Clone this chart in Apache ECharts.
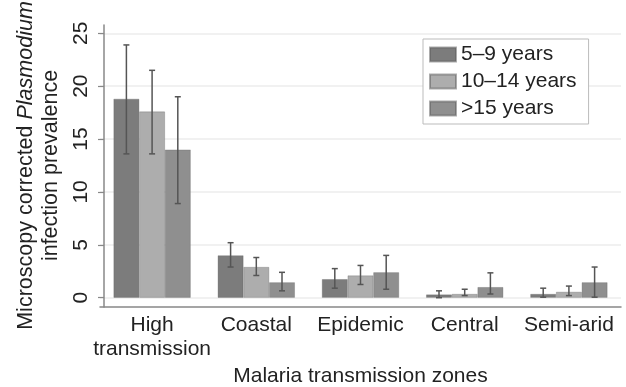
<!DOCTYPE html>
<html><head><meta charset="utf-8">
<script src="https://cdn.jsdelivr.net/npm/echarts@6/dist/echarts.min.js"></script>
<style>html,body{margin:0;padding:0;background:#fff}#c{width:626px;height:387px}</style>
</head><body><div id="c"></div>
<script>
var categories = ['High\ntransmission', 'Coastal', 'Epidemic', 'Central', 'Semi-arid'];
var seriesNames = ['5–9 years', '10–14 years', '>15 years'];
var prev5to9 = [18.8, 4.0, 1.75, 0.3, 0.35];
var prev10to14 = [17.6, 2.9, 2.1, 0.35, 0.55];
var prev15plus = [14.0, 1.45, 2.4, 1.0, 1.45];
var low5to9 = [13.6, 2.9, 0.9, 0.0, 0.05];
var high5to9 = [23.9, 5.2, 2.75, 0.65, 0.9];
var low10to14 = [13.6, 2.1, 1.25, 0.2, 0.2];
var high10to14 = [21.5, 3.8, 3.05, 0.8, 1.1];
var low15plus = [8.9, 0.65, 0.8, 0.35, 0.05];
var high15plus = [19.0, 2.4, 4.0, 2.35, 2.9];
var yTicks = [0, 5, 10, 15, 20, 25];

var FONT = 'Liberation Sans';
var TXT = '#222';
var FS = 21;
var colors = ['#7c7c7c', '#adadad', '#8f8f8f'];
var catGap = 0.26;

function errData(lo, hi) {
  return lo.map(function (v, i) { return [i, v, hi[i]]; });
}
function errRender(k) {
  return function (params, api) {
    var x = api.value(0);
    var pLo = api.coord([x, api.value(1)]);
    var pHi = api.coord([x, api.value(2)]);
    var catW = api.size([1, 0])[0];
    var bw = catW * (1 - catGap) / 3;
    var cx = pLo[0] + (k - 1) * bw;
    var cap = 3;
    var st = { stroke: '#555', lineWidth: 1.5 };
    return { type: 'group', children: [
      { type: 'line', shape: { x1: cx, y1: pLo[1], x2: cx, y2: pHi[1] }, style: st },
      { type: 'line', shape: { x1: cx - cap, y1: pHi[1], x2: cx + cap, y2: pHi[1] }, style: st },
      { type: 'line', shape: { x1: cx - cap, y1: pLo[1], x2: cx + cap, y2: pLo[1] }, style: st }
    ]};
  };
}

var chart = echarts.init(document.getElementById('c'), null, { renderer: 'canvas' });
var vals = [prev5to9, prev10to14, prev15plus];
var errs = [errData(low5to9, high5to9), errData(low10to14, high10to14), errData(low15plus, high15plus)];
var series = [];
vals.forEach(function (v, k) {
  series.push({
    name: seriesNames[k], type: 'bar', data: v, xAxisIndex: 0, yAxisIndex: 0,
    barGap: '0%', barCategoryGap: (catGap * 100) + '%',
    itemStyle: { color: colors[k], borderColor: 'rgba(90,90,90,0.5)', borderWidth: 0.6 },
    emphasis: { disabled: true }, z: 2
  });
});
errs.forEach(function (d, k) {
  series.push({
    type: 'custom', data: d, xAxisIndex: 0, yAxisIndex: 0,
    encode: { x: 0, y: [1, 2] }, renderItem: errRender(k), z: 5, silent: true
  });
});

chart.setOption({
  animation: false,
  textStyle: { fontFamily: FONT },
  grid: [
    { left: 100, right: 5, top: 33.3, bottom: 89.3, outerBoundsMode: 'none', containLabel: false },
    { left: 100, right: 5, top: 25, bottom: 80, outerBoundsMode: 'none', containLabel: false }
  ],
  legend: {
    data: seriesNames, orient: 'vertical', left: 423, top: 39,
    icon: 'rect', itemWidth: 26, itemHeight: 14, itemGap: 6,
    padding: [5, 12, 5, 6], borderColor: '#bbb', borderWidth: 1, backgroundColor: '#fff',
    textStyle: { fontSize: FS, color: TXT, fontFamily: FONT },
    selectedMode: false
  },
  xAxis: [
    { type: 'category', gridIndex: 0, data: categories, show: false },
    { type: 'category', gridIndex: 1, data: categories,
      axisLine: { show: true, lineStyle: { color: '#888', width: 1.5 } },
      axisTick: { show: false },
      axisLabel: { fontSize: FS, color: TXT, lineHeight: 24, margin: 6, interval: 0, fontFamily: FONT },
      name: 'Malaria transmission zones', nameLocation: 'middle', nameGap: 53,
      nameTextStyle: { fontSize: FS, color: TXT, fontFamily: FONT }
    }
  ],
  yAxis: [
    { type: 'value', gridIndex: 0, min: yTicks[0], max: yTicks[yTicks.length - 1], interval: 5, offset: -4,
      axisLine: { show: false },
      axisTick: { show: true, length: 6, lineStyle: { color: '#888', width: 1.2 } },
      axisLabel: { rotate: 90, fontSize: FS, color: TXT, margin: 12, fontFamily: FONT },
      splitLine: { show: true, lineStyle: { color: '#ececec', width: 1.5 } },
      name: '{n|Microscopy corrected }{i|Plasmodium}\n{n|infection prevalence}',
      nameLocation: 'middle', nameRotate: 90, nameGap: 40,
      nameTextStyle: {
        color: TXT, fontFamily: FONT, fontSize: 21.5, lineHeight: 25, align: 'center',
        rich: {
          n: { fontSize: 21.5, color: TXT, fontFamily: FONT, lineHeight: 25 },
          i: { fontSize: 21.5, color: TXT, fontFamily: FONT, fontStyle: 'italic', lineHeight: 25 }
        }
      }
    },
    { type: 'value', gridIndex: 1, min: 0, max: 1, offset: -4,
      axisLine: { show: true, lineStyle: { color: '#888', width: 1.5 } },
      axisTick: { show: false }, axisLabel: { show: false }, splitLine: { show: false }
    }
  ],
  series: series
});
</script>
</body></html>
